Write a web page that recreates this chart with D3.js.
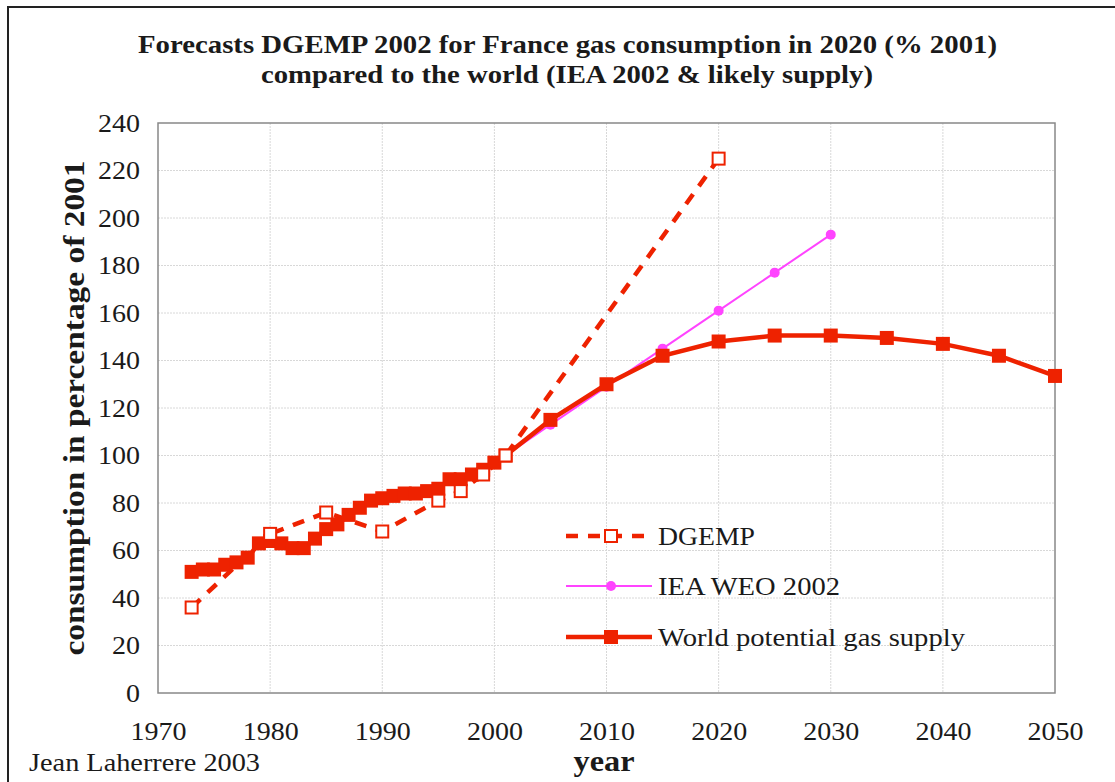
<!DOCTYPE html>
<html><head><meta charset="utf-8">
<script src="https://cdn.jsdelivr.net/npm/d3@7"></script>
<style>body{margin:0;background:#fff}svg{display:block}</style>
</head><body><svg id="c" width="1115" height="782"></svg>
<script>
const supplyYears = [1973,1974,1975,1976,1977,1978,1979,1980,1981,1982,1983,1984,1985,1986,1987,1988,1989,1990,1991,1992,1993,1994,1995,1996,1997,1998,1999,2000,2001,2005,2010,2015,2020,2025,2030,2035,2040,2045,2050];
const supplyValues = [51,52,52,54,55,57,63,64,63,61,61,65,69,71,75,78,81,82,83,84,84,85,86,90,90,92,94,97,100,115,130,142,148,150.5,150.5,149.5,147,142,133.5];
const dgempYears = [1973,1980,1985,1990,1995,1997,1999,2001,2020];
const dgempValues = [36,67,76,68,81,85,92,100,225];
const ieaYears = [2001,2005,2010,2015,2020,2025,2030];
const ieaValues = [100,113,129,145,161,177,193];
const xTicks = [1970,1980,1990,2000,2010,2020,2030,2040,2050];
const yTicks = [0,20,40,60,80,100,120,140,160,180,200,220,240];
const titleLines = ["Forecasts DGEMP 2002 for France gas consumption in 2020 (% 2001)","compared to the world (IEA 2002 & likely supply)"];
const legendLabels = ["DGEMP","IEA WEO 2002","World potential gas supply"];

const svg = d3.select("#c");
const serif = "'Liberation Serif','DejaVu Serif',serif";
const ink = "#1a1a1a";
const L=158, R=1055, T=123, B=693;
const x = d3.scaleLinear().domain([1970,2050]).range([L,R]);
const y = d3.scaleLinear().domain([0,240]).range([B,T]);
const red = "#ee2200", mag = "#ff44ff";

svg.append("rect").attr("x",8).attr("y",7).attr("width",1200).attr("height",900)
  .attr("fill","none").attr("stroke","#222").attr("stroke-width",2);

// grid
const g = svg.append("g");
g.selectAll(".gy").data(yTicks.slice(1,-1)).join("line")
  .attr("x1",L).attr("x2",R).attr("y1",d=>y(d)).attr("y2",d=>y(d))
  .attr("stroke","#d8d8d8").attr("stroke-width",1).attr("stroke-dasharray","2,1");
g.selectAll(".gx").data(xTicks.slice(1,-1)).join("line")
  .attr("y1",T).attr("y2",B).attr("x1",d=>x(d)).attr("x2",d=>x(d))
  .attr("stroke","#d8d8d8").attr("stroke-width",1).attr("stroke-dasharray","2,1");
g.append("rect").attr("x",L).attr("y",T).attr("width",R-L).attr("height",B-T)
  .attr("fill","none").attr("stroke","#888").attr("stroke-width",1.5);

// axes
const yAxis = svg.append("g").attr("transform",`translate(${L},0)`)
  .call(d3.axisLeft(y).tickValues(yTicks).tickSize(0).tickPadding(18));
yAxis.select(".domain").remove();
yAxis.selectAll("text").attr("font-family",serif).attr("font-size",26).attr("fill",ink)
  .attr("textLength",d=>String(d).length*14).attr("lengthAdjust","spacingAndGlyphs");
const xAxis = svg.append("g").attr("transform",`translate(0,${B})`)
  .call(d3.axisBottom(x).tickValues(xTicks).tickFormat(d3.format("d")).tickSize(0).tickPadding(29));
xAxis.select(".domain").remove();
xAxis.selectAll("text").attr("font-family",serif).attr("font-size",26).attr("fill",ink)
  .attr("textLength",56).attr("lengthAdjust","spacingAndGlyphs");

function txt(xp, yp, s, size, bold, len, anchor){
  return svg.append("text").attr("x",xp).attr("y",yp).attr("text-anchor",anchor||"start")
    .attr("font-family",serif).attr("font-weight",bold?"bold":"normal").attr("font-size",size)
    .attr("fill",ink).attr("textLength",len).attr("lengthAdjust","spacingAndGlyphs").text(s);
}
txt(567.5,53,titleLines[0],25,true,859,"middle");
txt(567,83,titleLines[1],25,true,612,"middle");
svg.append("text").attr("transform","translate(84,408) rotate(-90)").attr("text-anchor","middle")
  .attr("font-family",serif).attr("font-weight","bold").attr("font-size",30).attr("fill",ink)
  .attr("textLength",495).attr("lengthAdjust","spacingAndGlyphs")
  .text("consumption in percentage of 2001");
txt(604,771,"year",29,true,61,"middle");
txt(29,771,"Jean Laherrere 2003",25,false,231);

const line = d3.line().x(d=>x(d[0])).y(d=>y(d[1]));
const sup = supplyYears.map((d,i)=>[d,supplyValues[i]]);
const dge = dgempYears.map((d,i)=>[d,dgempValues[i]]);
const iea = ieaYears.map((d,i)=>[d,ieaValues[i]]);

// DGEMP dashed
svg.append("path").datum(dge).attr("d",line).attr("fill","none").attr("stroke",red)
  .attr("stroke-width",4.5).attr("stroke-dasharray","12,10");
// IEA
svg.append("path").datum(iea).attr("d",line).attr("fill","none").attr("stroke",mag).attr("stroke-width",2);
svg.selectAll(".iea").data(iea).join("circle").attr("cx",d=>x(d[0])).attr("cy",d=>y(d[1])).attr("r",5).attr("fill",mag);
// supply
svg.append("path").datum(sup).attr("d",line).attr("fill","none").attr("stroke",red).attr("stroke-width",4.5);
svg.selectAll(".sup").data(sup).join("rect").attr("x",d=>x(d[0])-7).attr("y",d=>y(d[1])-7)
  .attr("width",14).attr("height",14).attr("fill",red);
svg.selectAll(".dge").data(dge).join("rect").attr("x",d=>x(d[0])-6).attr("y",d=>y(d[1])-6)
  .attr("width",12).attr("height",12).attr("fill","#fff").attr("stroke",red).attr("stroke-width",2);

// legend
const lx1=566, lx2=652, lc=611, ly=[536,586,637];
const lg = svg.append("g");
lg.append("line").attr("x1",lx1).attr("x2",lx2).attr("y1",ly[0]).attr("y2",ly[0]).attr("stroke",red)
  .attr("stroke-width",4.5).attr("stroke-dasharray","12,10");
lg.append("rect").attr("x",lc-6).attr("y",ly[0]-6).attr("width",12).attr("height",12)
  .attr("fill","#fff").attr("stroke",red).attr("stroke-width",2);
lg.append("line").attr("x1",lx1).attr("x2",lx2).attr("y1",ly[1]).attr("y2",ly[1]).attr("stroke",mag).attr("stroke-width",2);
lg.append("circle").attr("cx",lc).attr("cy",ly[1]).attr("r",5).attr("fill",mag);
lg.append("line").attr("x1",lx1).attr("x2",lx2).attr("y1",ly[2]).attr("y2",ly[2]).attr("stroke",red).attr("stroke-width",4.5);
lg.append("rect").attr("x",lc-7).attr("y",ly[2]-7).attr("width",14).attr("height",14).attr("fill",red);
const legLens = [97,182,307];
legendLabels.forEach((t,i)=>{
  lg.append("text").attr("x",658).attr("y",ly[i]+9).attr("font-family",serif).attr("font-size",26).attr("fill",ink)
    .attr("textLength",legLens[i]).attr("lengthAdjust","spacingAndGlyphs").text(t);
});
</script></body></html>
